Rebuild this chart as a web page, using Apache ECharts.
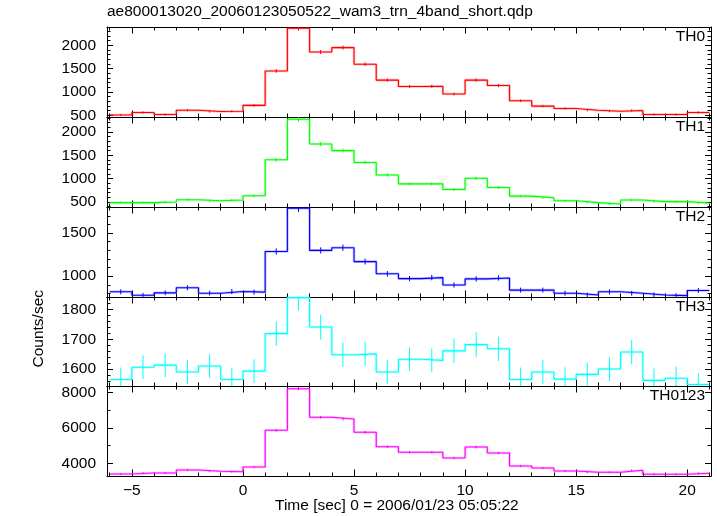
<!DOCTYPE html>
<html><head><meta charset="utf-8">
<script src="https://cdn.jsdelivr.net/npm/echarts@6/dist/echarts.min.js"></script>
<style>html,body{margin:0;padding:0;background:#fff}#c{width:717px;height:516px}</style>
</head><body><div id="c"></div><script>
// ---- data ----
const binStarts = [-6,-5,-4,-3,-2,-1,0,1,2,3,4,5,6,7,8,9,10,11,12,13,14,15,16,17,18,19,20];
const binWidth = 1;
const panelNames = ['TH0','TH1','TH2','TH3','TH0123'];
const th0 = [506,559,515,609,580,587,711,1450,2363,1855,1949,1594,1254,1116,1123,956,1254,1138,811,696,645,609,587,602,515,515,559];
const th0Err = [22,24,23,25,24,24,27,38,49,43,44,40,35,33,34,31,35,34,28,26,25,25,24,25,23,23,24];
const th1 = [487,487,500,550,529,542,635,1402,2268,1740,1599,1345,1079,889,889,768,1007,810,627,593,529,487,458,542,508,508,478];
const th1Err = [22,22,22,23,23,23,25,37,48,42,40,37,33,30,30,28,32,28,25,24,23,22,21,23,23,23,22];
const th2 = [819,779,807,866,803,822,815,1287,1787,1299,1330,1169,1028,972,984,898,969,980,839,839,803,783,819,803,783,775,834];
const th2Err = [29,28,28,29,28,29,29,36,42,36,36,34,32,31,31,30,31,31,29,29,28,28,29,28,28,28,29];
const th3 = [1565,1606,1613,1590,1610,1565,1593,1719,1840,1741,1648,1651,1590,1633,1629,1661,1682,1668,1565,1590,1566,1582,1600,1657,1562,1569,1548];
const th3Err = [40,40,40,40,40,40,40,41,43,42,41,41,40,40,40,41,41,41,40,40,40,40,40,41,40,40,39];
const th0123 = [3397,3453,3453,3622,3549,3527,3791,5859,8203,6591,6496,5746,4935,4620,4620,4299,4918,4580,3848,3735,3566,3493,3493,3605,3380,3380,3436];
const th0123Err = [58,59,59,60,60,59,62,77,91,81,81,76,70,68,68,66,70,68,62,61,60,59,59,60,58,58,59];

const xTickLabels = [-5,0,5,10,15,20];
const xMinorTicks = [-6,-4,-3,-2,-1,1,2,3,4,6,7,8,9,11,12,13,14,16,17,18,19,21];
const th0Ticks = [500,1000,1500,2000];
const th0Minor = [600,700,800,900,1100,1200,1300,1400,1600,1700,1800,1900,2100,2200,2300];
const th1Ticks = [500,1000,1500,2000];
const th1Minor = [400,600,700,800,900,1100,1200,1300,1400,1600,1700,1800,1900,2100,2200,2300];
const th2Ticks = [1000,1500];
const th2Minor = [800,900,1100,1200,1300,1400,1600,1700,1800];
const th3Ticks = [1600,1700,1800];
const th3Minor = [1560,1580,1620,1640,1660,1680,1720,1740,1760,1780,1820,1840];
const th0123Ticks = [4000,6000,8000];
const th0123Minor = [5000,7000];

// ---- layout / style ----
const values = [th0, th1, th2, th3, th0123];
const errors = [th0Err, th1Err, th2Err, th3Err, th0123Err];
const majorTicks = [th0Ticks, th1Ticks, th2Ticks, th3Ticks, th0123Ticks];
const minorTicks = [th0Minor, th1Minor, th2Minor, th3Minor, th0123Minor];
const yMins = [463, 394, 759, 1543, 3284];
const yMaxs = [2391, 2317, 1802, 1842, 8355];
const colors = ['#ff0000', '#00ff00', '#0000ff', '#00ffff', '#ff00ff'];
const tops = [27, 117, 207, 297, 386];
const heights = [90, 90, 90, 89, 90];
const XMIN = -6.12, XMAX = 21.07;
const FONT = 'Liberation Sans, Arial, Helvetica, sans-serif';
const FS = 15.5;

const grids = [], xAxes = [], yAxes = [], series = [], graphics = [];
function xAx(i, pos, ticks, len, line, labels) {
  return {
    type: 'value', gridIndex: i, position: pos, min: XMIN, max: XMAX,
    axisLine: {show: line, onZero: false, lineStyle: {color: '#000', width: 1}},
    axisTick: {show: true, inside: true, length: len, customValues: ticks, lineStyle: {color: '#000', width: 1}},
    axisLabel: {show: labels, customValues: xTickLabels, color: '#000', fontSize: FS, fontFamily: FONT, margin: 7,
      formatter: v => String(v).replace('-', '\u2212')},
    splitLine: {show: false}, minorTick: {show: false}
  };
}
function yAx(i, pos, ticks, len, line, labels) {
  return {
    type: 'value', gridIndex: i, position: pos, min: yMins[i], max: yMaxs[i],
    axisLine: {show: line, onZero: false, lineStyle: {color: '#000', width: 1}},
    axisTick: {show: true, inside: true, length: len, customValues: ticks, lineStyle: {color: '#000', width: 1}},
    axisLabel: {show: labels, customValues: majorTicks[i], color: '#000', fontSize: FS, fontFamily: FONT, margin: 11,
      formatter: v => String(v)},
    splitLine: {show: false}, minorTick: {show: false}
  };
}
for (let i = 0; i < 5; i++) {
  grids.push({left: 107, width: 604, top: tops[i], height: heights[i], containLabel: false, outerBoundsMode: 'none'});
  const xi = xAxes.length;
  xAxes.push(xAx(i, 'bottom', xTickLabels, 6.5, true, i === 4));
  xAxes.push(xAx(i, 'top', xTickLabels, 6.5, true, false));
  xAxes.push(xAx(i, 'bottom', xMinorTicks, 3.5, false, false));
  xAxes.push(xAx(i, 'top', xMinorTicks, 3.5, false, false));
  const yi = yAxes.length;
  yAxes.push(yAx(i, 'left', majorTicks[i], 6, true, true));
  yAxes.push(yAx(i, 'right', majorTicks[i], 6, true, false));
  yAxes.push(yAx(i, 'left', minorTicks[i], 3.5, false, false));
  yAxes.push(yAx(i, 'right', minorTicks[i], 3.5, false, false));

  const pts = [];
  binStarts.forEach((s, k) => { pts.push([s, values[i][k]]); pts.push([s + binWidth, values[i][k]]); });
  series.push({type: 'line', xAxisIndex: xi, yAxisIndex: yi, data: pts, symbol: 'none', silent: true,
    lineStyle: {color: colors[i], width: 2.6, opacity: 0.25}, z: 2});
  series.push({type: 'line', xAxisIndex: xi, yAxisIndex: yi, data: pts, symbol: 'none', silent: true,
    lineStyle: {color: colors[i], width: 1.1}, z: 3});
  const eb = binStarts.map((s, k) => [s + binWidth / 2, values[i][k] - errors[i][k], values[i][k] + errors[i][k]]);
  const col = colors[i];
  series.push({type: 'custom', xAxisIndex: xi, yAxisIndex: yi, data: eb, silent: true, z: 4,
    encode: {x: 0, y: [1, 2]},
    renderItem: (params, api) => {
      const a = api.coord([api.value(0), api.value(1)]);
      const b = api.coord([api.value(0), api.value(2)]);
      const cs = params.coordSys;
      const clamp = y => Math.max(cs.y, Math.min(cs.y + cs.height, y));
      return {type: 'line', shape: {x1: a[0], y1: clamp(a[1]), x2: b[0], y2: clamp(b[1])},
        style: {stroke: col, lineWidth: 1}};
    }});
  graphics.push({type: 'text', right: 12, top: tops[i] + 2,
    style: {text: panelNames[i], fill: '#000', font: FS + 'px ' + FONT, textAlign: 'right'}});
}
graphics.push({type: 'text', left: 107, top: 4,
  style: {text: 'ae800013020_20060123050522_wam3_trn_4band_short.qdp', fill: '#000', font: FS + 'px ' + FONT}});
graphics.push({type: 'text', left: 275, top: 498,
  style: {text: 'Time [sec] 0 = 2006/01/23 05:05:22', fill: '#000', font: FS + 'px ' + FONT}});
graphics.push({type: 'text', left: 31, top: 290, rotation: Math.PI / 2, originX: 0, originY: 0,
  style: {text: 'Counts/sec', fill: '#000', font: FS + 'px ' + FONT}});

const chart = echarts.init(document.getElementById('c'), null, {renderer: 'canvas'});
chart.setOption({animation: false, backgroundColor: '#fff', grid: grids, xAxis: xAxes, yAxis: yAxes, series: series, graphic: graphics});
</script></body></html>
